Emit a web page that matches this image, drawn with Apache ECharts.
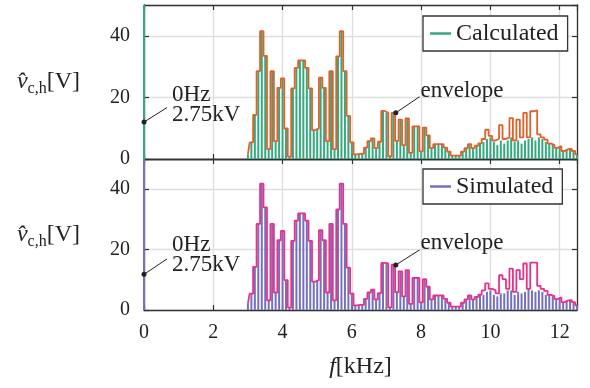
<!DOCTYPE html>
<html><head><meta charset="utf-8">
<script src="https://cdn.jsdelivr.net/npm/echarts@6/dist/echarts.min.js"></script>
<style>html,body{margin:0;padding:0;background:#fff}#c{width:590px;height:388px}</style>
</head><body><div id="c"></div>
<script>
// harmonic frequencies in kHz
const freqs = [
 3.0,3.1,3.2,3.3,3.4,3.5,3.6,3.7,3.8,3.9,
 4.0,4.1,4.2,4.3,4.4,4.5,4.6,4.7,4.8,4.9,
 5.0,5.1,5.2,5.3,5.4,5.5,5.6,5.7,5.8,5.9,
 6.0,6.1,6.2,6.3,6.4,6.5,6.6,6.7,6.8,6.9,
 7.0,7.1,7.2,7.3,7.4,7.5,7.6,7.7,7.8,7.9,
 8.0,8.1,8.2,8.3,8.4,8.5,8.6,8.7,8.8,8.9,
 9.0,9.1,9.2,9.3,9.4,9.5,9.6,9.7,9.8,9.9,
 10.0,10.1,10.2,10.3,10.4,10.5,10.6,10.7,10.8,10.9,
 11.0,11.1,11.2,11.3,11.4,11.5,11.6,11.7,11.8,11.9,
 12.0,12.1,12.2,12.3,12.4,12.5
];
// envelope, calculated (V)
const calcEnv = [
 1.5,5.4,14.3,28.5,41.5,33.5,3.2,28.5,5.8,23.1,
 26.2,9.9,0.8,22.9,29.6,32.0,32.0,29.6,22.9,9.4,
 9.9,26.4,23.1,5.8,28.5,3.2,33.3,41.5,28.5,14.0,
 5.4,1.5,1.7,1.7,3.7,5.8,6.7,3.5,5.6,15.6,
 15.0,0.9,15.0,5.9,12.8,4.5,13.2,2.0,10.6,10.6,
 2.5,10.2,7.7,3.5,4.8,4.8,4.8,3.7,2.4,1.1,
 1.1,1.1,2.4,3.5,4.8,3.5,4.3,5.1,6.5,9.5,
 7.5,6.0,6.6,11.0,6.5,7.0,13.3,6.0,12.8,7.0,
 15.0,7.0,15.5,15.8,8.0,7.0,6.3,5.0,4.6,3.6,
 4.2,2.6,3.2,3.3,2.6,1.5
];
// harmonic amplitudes, calculated (V)
const calcStems = [
 1.5,5.4,14.3,28.5,41.5,33.5,3.2,28.5,5.8,23.1,
 26.2,9.9,0.8,22.9,29.6,32.0,32.0,29.6,22.9,9.4,
 9.9,26.4,23.1,5.8,28.5,3.2,33.3,41.5,28.5,14.0,
 5.4,1.5,1.7,1.7,3.7,5.8,6.7,3.5,5.6,15.6,
 15.0,0.9,15.0,5.9,12.8,4.5,13.2,2.0,10.6,10.6,
 2.5,10.2,7.7,3.5,4.8,4.8,4.8,3.7,2.4,1.1,
 1.1,1.1,2.4,3.5,4.8,3.5,4.3,5.1,5.5,6.5,
 7.0,5.5,4.5,6.0,5.0,6.0,7.0,5.5,6.0,5.0,
 6.0,6.5,7.0,6.0,7.0,6.5,5.5,5.0,4.6,3.6,
 4.2,2.6,3.2,3.3,2.6,1.5
];
// envelope, simulated (V)
const simEnv = [
 2.2,5.4,14.3,28.5,41.8,34.0,3.2,28.5,5.8,23.1,
 26.2,9.9,0.8,22.9,29.6,32.0,32.0,29.6,22.9,9.4,
 9.9,26.4,23.1,5.8,28.5,3.2,33.3,41.8,28.5,14.0,
 5.4,1.5,1.7,1.7,3.7,5.8,6.7,3.5,5.6,15.6,
 15.4,0.9,15.0,5.9,12.8,4.5,13.2,2.0,10.6,10.6,
 2.5,10.2,7.7,3.5,4.8,4.8,4.8,3.7,2.4,1.1,
 1.1,1.1,2.4,3.5,4.8,3.5,4.3,5.1,6.5,8.8,
 7.0,6.6,5.5,11.5,10.2,7.0,13.7,6.0,13.2,10.2,
 15.4,7.0,15.7,15.7,8.0,7.0,6.3,5.0,4.6,3.6,
 4.2,2.6,3.2,3.3,2.6,1.5
];
// harmonic amplitudes, simulated (V)
const simStems = [
 2.2,5.4,14.3,28.5,41.8,34.0,3.2,28.5,5.8,23.1,
 26.2,9.9,0.8,22.9,29.6,32.0,32.0,29.6,22.9,9.4,
 9.9,26.4,23.1,5.8,28.5,3.2,33.3,41.8,28.5,14.0,
 5.4,1.5,1.7,1.7,3.7,5.8,6.7,3.5,5.6,15.6,
 15.4,0.9,15.0,5.9,12.8,4.5,13.2,2.0,10.6,10.6,
 2.5,10.2,7.7,3.5,4.8,4.8,4.8,3.7,2.4,1.1,
 1.1,1.1,2.4,3.5,4.8,3.5,4.3,5.1,5.0,6.0,
 6.5,5.0,4.5,5.5,5.5,6.5,6.5,5.0,6.0,5.5,
 6.0,7.0,6.5,6.0,6.5,6.0,5.0,5.0,4.6,3.6,
 4.2,2.6,3.2,3.3,2.6,1.5
];
// DC component
const dcFreq = 0;          // kHz
const dcValue = 2750;      // V (2.75 kV)
// annotation anchor points [f, V]
const dcNoteCalc = [[0, 12], [0.65, 16.6]];
const dcNoteSim  = [[0, 11.8], [0.65, 16.8]];
const envNoteCalc = [[7.27, 15.0], [7.94, 20.1]];
const envNoteSim  = [[7.27, 14.9], [7.94, 19.8]];
const dcNoteText = '0Hz\n2.75kV';
const envNoteText = 'envelope';

const FONT = 'Liberation Serif';
const TXT = '#222';
const stems = (vals) => [[dcFreq, dcValue]].concat(freqs.map((f, i) => [f, vals[i]]));
const env = (vals) => freqs.map((f, i) => [f, vals[i]]);

function xAx(grid, pos, labels, split) {
  return {
    type: 'value', gridIndex: grid, position: pos, min: 0, max: 12.5, interval: 2,
    axisLine: { show: true, onZero: false, lineStyle: { color: '#333', width: 1.3 } },
    axisTick: { show: true, inside: true, length: 5, lineStyle: { color: '#333', width: 1.2 } },
    axisLabel: { show: labels, showMaxLabel: false, margin: 13, fontFamily: FONT, fontSize: 20, color: TXT },
    splitLine: { show: split, lineStyle: { color: '#dedede', width: 1.3 } }
  };
}
function yAx(grid, pos, labels, split) {
  const a = {
    type: 'value', gridIndex: grid, position: pos, min: 0, max: 50, interval: 20,
    axisLine: { show: true, onZero: false, lineStyle: { color: '#333', width: 1.3 } },
    axisTick: { show: true, inside: true, length: 5, lineStyle: { color: '#333', width: 1.2 } },
    axisLabel: { show: labels, showMaxLabel: false, margin: 14, fontFamily: FONT, fontSize: 20, color: TXT },
    splitLine: { show: split, lineStyle: { color: '#dedede', width: 1.3 } }
  };
  if (labels) {
    a.name = '{i|v\u0302}{s|c,h}{n|[V]}';
    a.nameLocation = 'middle';
    a.nameRotate = 0;
    a.nameGap = 64;
    a.nameTextStyle = {
      align: 'right',
      rich: {
        i: { fontFamily: FONT, fontStyle: 'italic', fontSize: 24, color: TXT, lineHeight: 30 },
        s: { fontFamily: FONT, fontSize: 16, color: TXT, lineHeight: 15, verticalAlign: 'bottom' },
        n: { fontFamily: FONT, fontSize: 24, color: TXT, lineHeight: 30 }
      }
    };
  }
  return a;
}
function note(name, xi, yi, pts, text, dist, off) {
  return {
    type: 'line', name: name, xAxisIndex: xi, yAxisIndex: yi, silent: true, z: 6,
    lineStyle: { color: '#222', width: 1 }, itemStyle: { color: '#222' },
    data: [
      { value: pts[0], symbol: 'circle', symbolSize: 5 },
      { value: pts[1], symbol: 'circle', symbolSize: 1,
        label: { show: true, position: 'right', distance: dist, offset: off, formatter: text,
                 fontFamily: FONT, fontSize: 23, lineHeight: 20, color: TXT, align: 'left' } }
    ]
  };
}
function legend(top, name) {
  return {
    data: [name], left: 423, top: top, orient: 'horizontal', icon: 'rect',
    itemWidth: 21, itemHeight: 2.5, backgroundColor: '#fff',
    borderColor: '#333', borderWidth: 1.3, padding: [4, 9, 4, 7],
    textStyle: { fontFamily: FONT, fontSize: 24, lineHeight: 27, color: TXT }
  };
}

const chart = echarts.init(document.getElementById('c'), null, { renderer: 'canvas' });
chart.setOption({
  animation: false,
  backgroundColor: '#fff',
  grid: [
    { left: 144, right: 13, top: 5, height: 154 },
    { left: 144, right: 13, top: 159, height: 151 }
  ],
  legend: [legend(16, 'Calculated'), legend(169, 'Simulated')],
  xAxis: [
    xAx(0, 'bottom', false, true),
    xAx(0, 'top', false, false),
    Object.assign(xAx(1, 'bottom', true, true), {
      name: '{i|f}{n|[kHz]}', nameLocation: 'middle', nameGap: 45,
      nameTextStyle: { rich: {
        i: { fontFamily: FONT, fontStyle: 'italic', fontSize: 24, color: TXT },
        n: { fontFamily: FONT, fontSize: 24, color: TXT } } }
    }),
    xAx(1, 'top', false, false)
  ],
  yAxis: [
    yAx(0, 'left', true, true),
    yAx(0, 'right', false, false),
    yAx(1, 'left', true, true),
    yAx(1, 'right', false, false)
  ],
  series: [
    { type: 'bar', name: 'Calculated', xAxisIndex: 0, yAxisIndex: 0, barWidth: 2, clip: true,
      itemStyle: { color: '#34a97e' }, data: stems(calcStems), z: 2 },
    { type: 'line', name: 'envelope-c', xAxisIndex: 0, yAxisIndex: 0, step: 'middle', showSymbol: false,
      clip: true, lineStyle: { color: '#e2602a', width: 1.8 }, data: env(calcEnv), z: 3, silent: true },
    { type: 'bar', name: 'Simulated', xAxisIndex: 2, yAxisIndex: 2, barWidth: 2, clip: true,
      itemStyle: { color: '#7470bd' }, data: stems(simStems), z: 2 },
    { type: 'line', name: 'envelope-s', xAxisIndex: 2, yAxisIndex: 2, step: 'middle', showSymbol: false,
      clip: true, lineStyle: { color: '#e8328a', width: 1.8 }, data: env(simEnv), z: 3, silent: true },
    note('n1', 0, 0, dcNoteCalc, dcNoteText, 5, [0, -3]),
    note('n2', 0, 0, envNoteCalc, envNoteText, 1, [0, -6]),
    note('n3', 2, 2, dcNoteSim, dcNoteText, 5, [0, -4]),
    note('n4', 2, 2, envNoteSim, envNoteText, 1, [0, -7])
  ]
});
</script></body></html>
